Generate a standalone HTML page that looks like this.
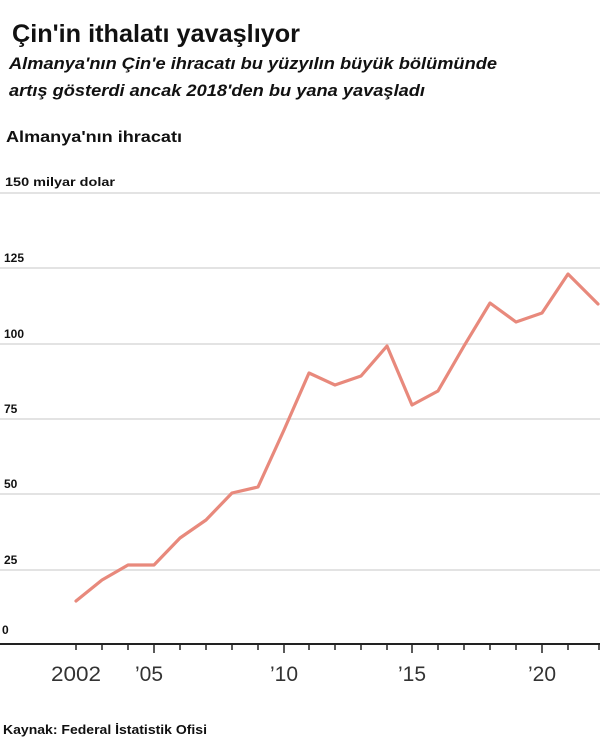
<!DOCTYPE html>
<html><head><meta charset="utf-8"><style>body{margin:0;background:#fff}svg{display:block}</style></head>
<body>
<svg width="604" height="744" viewBox="0 0 604 744" xmlns="http://www.w3.org/2000/svg" font-family="Liberation Sans, DejaVu Sans, sans-serif">
<text x="12" y="42" font-size="25" font-weight="bold" fill="#111" textLength="288" lengthAdjust="spacingAndGlyphs">Çin'in ithalatı yavaşlıyor</text>
<text x="9" y="69" font-size="17" font-weight="bold" font-style="italic" fill="#111" textLength="488" lengthAdjust="spacingAndGlyphs">Almanya'nın Çin'e ihracatı bu yüzyılın büyük bölümünde</text>
<text x="9" y="96" font-size="17" font-weight="bold" font-style="italic" fill="#111" textLength="416" lengthAdjust="spacingAndGlyphs">artış gösterdi ancak 2018'den bu yana yavaşladı</text>
<text x="6" y="142" font-size="16" font-weight="bold" fill="#111" textLength="176" lengthAdjust="spacingAndGlyphs">Almanya'nın ihracatı</text>
<text x="5" y="186" font-size="12" font-weight="bold" fill="#111" textLength="110" lengthAdjust="spacingAndGlyphs">150 milyar dolar</text>
<g stroke="#e3e3e3" stroke-width="2">
<line x1="0" y1="193" x2="600" y2="193"/><line x1="0" y1="268" x2="600" y2="268"/><line x1="0" y1="344" x2="600" y2="344"/><line x1="0" y1="419" x2="600" y2="419"/><line x1="0" y1="494" x2="600" y2="494"/><line x1="0" y1="570" x2="600" y2="570"/>
</g>
<g font-size="12" font-weight="bold" fill="#111">
<text x="4" y="262">125</text><text x="4" y="338">100</text><text x="4" y="413">75</text><text x="4" y="488">50</text><text x="4" y="564">25</text><text x="2" y="634">0</text>
</g>
<line x1="0" y1="644" x2="600" y2="644" stroke="#222" stroke-width="2"/>
<g stroke="#222" stroke-width="1.5">
<line x1="76" y1="644" x2="76" y2="650"/><line x1="102" y1="644" x2="102" y2="650"/><line x1="128" y1="644" x2="128" y2="650"/><line x1="154" y1="644" x2="154" y2="653"/><line x1="180" y1="644" x2="180" y2="650"/><line x1="206" y1="644" x2="206" y2="650"/><line x1="232" y1="644" x2="232" y2="650"/><line x1="258" y1="644" x2="258" y2="650"/><line x1="284" y1="644" x2="284" y2="653"/><line x1="309" y1="644" x2="309" y2="650"/><line x1="335" y1="644" x2="335" y2="650"/><line x1="361" y1="644" x2="361" y2="650"/><line x1="387" y1="644" x2="387" y2="650"/><line x1="412" y1="644" x2="412" y2="653"/><line x1="438" y1="644" x2="438" y2="650"/><line x1="464" y1="644" x2="464" y2="650"/><line x1="490" y1="644" x2="490" y2="650"/><line x1="516" y1="644" x2="516" y2="650"/><line x1="542" y1="644" x2="542" y2="653"/><line x1="568" y1="644" x2="568" y2="650"/><line x1="599" y1="644" x2="599" y2="650"/>
</g>
<g font-size="21" fill="#333" text-anchor="middle">
<text x="76" y="681" textLength="50" lengthAdjust="spacingAndGlyphs">2002</text><text x="149" y="681">’05</text><text x="284" y="681">’10</text><text x="412" y="681">’15</text><text x="542" y="681">’20</text>
</g>
<polyline fill="none" stroke="#e8897c" stroke-width="3.2" stroke-linejoin="round" stroke-linecap="round" points="76,601 102,580 128,565 154,565 180,538 206,520 232,493 258,487 284,430 309,373 335,385 361,376 387,346 412,405 438,391 464,346 490,303 516,322 542,313 568,274 598,304"/>
<text x="3" y="734" font-size="13" font-weight="bold" fill="#111" textLength="204" lengthAdjust="spacingAndGlyphs">Kaynak: Federal İstatistik Ofisi</text>
</svg>
</body></html>
